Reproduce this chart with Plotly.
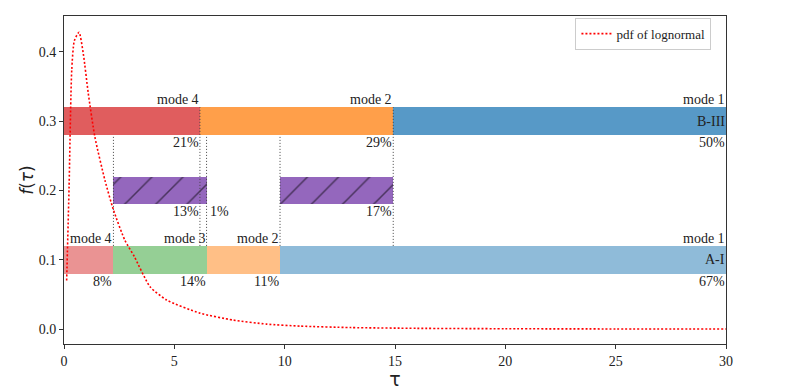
import plotly.graph_objects as go

# ---- data ----
tau_pts = [0.12, 0.23, 0.35, 0.47, 0.68, 0.875, 1.10, 1.40, 1.86, 2.24, 2.76, 3.18, 3.90, 4.65,
           6.16, 7.67, 9.18, 10.7, 13.0, 16.0, 20.0, 25.0, 30.0]
pdf_vals = [0.07, 0.205, 0.373, 0.416, 0.428, 0.397, 0.34, 0.277, 0.214, 0.172, 0.128, 0.105, 0.061, 0.042,
            0.023, 0.013, 0.0072, 0.0043, 0.0022, 0.0011, 0.0005, 0.0002, 0.0001]

b3_bounds = [0, 6.16, 14.92, 30]
b3_modes = ["mode 4", "mode 2", "mode 1"]
b3_pct = ["21%", "29%", "50%"]
b3_colors = ["#e05d5e", "#ff9f4a", "#5799c7"]

a1_bounds = [0, 2.24, 6.46, 9.79, 30]
a1_modes = ["mode 4", "mode 3", "mode 2", "mode 1"]
a1_pct = ["8%", "14%", "11%", "67%"]
a1_colors = ["#ea9393", "#95cf95", "#ffbf86", "#8fbbd9"]

hatch_starts = [2.24, 9.79]
hatch_ends = [6.46, 14.92]
hatch_labels = [("13%", 6.16, "right"), ("1%", 6.46, "left"), ("17%", 14.92, "right")]

row_y = {"B-III": 0.3, "hatch": 0.2, "A-I": 0.1}
bar_h = 0.04

x_ticks = [0, 5, 10, 15, 20, 25, 30]
y_ticks = [0.0, 0.1, 0.2, 0.3, 0.4]

long_lines = [6.16, 14.92]
short_lines = [2.24, 6.46, 9.79]

SERIF = "Liberation Serif"
fig = go.Figure()

def add_row(bounds, colors, yv):
    for i in range(len(bounds) - 1):
        fig.add_trace(go.Bar(orientation="h", y=[yv], x=[bounds[i + 1] - bounds[i]], base=[bounds[i]],
                             width=bar_h, marker=dict(color=colors[i], line=dict(width=0)),
                             showlegend=False, hoverinfo="skip"))

add_row(b3_bounds, b3_colors, row_y["B-III"])
add_row(a1_bounds, a1_colors, row_y["A-I"])

for s, e in zip(hatch_starts, hatch_ends):
    fig.add_trace(go.Bar(orientation="h", y=[row_y["hatch"]], x=[e - s], base=[s], width=bar_h,
                         marker=dict(color="#9467bd", line=dict(width=0),
                                     pattern=dict(shape="/", fgcolor="black", bgcolor="#9467bd",
                                                  size=22, solidity=0.07)),
                         showlegend=False, hoverinfo="skip"))

guide = dict(color="#444", width=1, dash="1px,2px")
for xv in long_lines:
    fig.add_trace(go.Scatter(x=[xv, xv], y=[0.12, 0.32], mode="lines",
                             line=guide, showlegend=False, hoverinfo="skip"))
for xv in short_lines:
    fig.add_trace(go.Scatter(x=[xv, xv], y=[0.12, 0.28], mode="lines",
                             line=guide, showlegend=False, hoverinfo="skip"))

fig.add_trace(go.Scatter(x=tau_pts, y=pdf_vals, mode="lines", name="pdf of lognormal",
                         line=dict(color="red", width=1.6, dash="2px,2px", shape="spline", smoothing=0.6)))

ann_font = dict(family=SERIF, size=14, color="#222")

def row_labels(bounds, modes, pcts, yv, name):
    for i in range(len(modes)):
        xe = bounds[i + 1]
        fig.add_annotation(x=xe, y=yv + bar_h / 2, text=modes[i], showarrow=False, xanchor="right",
                           yanchor="bottom", font=ann_font, borderpad=0, yshift=-1)
        fig.add_annotation(x=xe, y=yv - bar_h / 2, text=pcts[i], showarrow=False, xanchor="right",
                           yanchor="top", font=ann_font, borderpad=0, yshift=1)
    fig.add_annotation(x=bounds[-1], y=yv, text=name, showarrow=False, xanchor="right",
                       yanchor="middle", font=ann_font, borderpad=0)

row_labels(b3_bounds, b3_modes, b3_pct, row_y["B-III"], "B-III")
row_labels(a1_bounds, a1_modes, a1_pct, row_y["A-I"], "A-I")

for txt, xv, anc in hatch_labels:
    fig.add_annotation(x=xv, y=row_y["hatch"] - bar_h / 2, text=txt, showarrow=False, xanchor=anc,
                       yanchor="top", font=ann_font, borderpad=0, yshift=1, xshift=(2 if anc == "left" else 0))

axis_common = dict(showline=True, mirror=True, linecolor="#333", linewidth=1, ticks="outside",
                   ticklen=4, tickcolor="#333", showgrid=False, zeroline=False, automargin=False,
                   tickfont=dict(family=SERIF, size=14, color="#222"))

fig.update_layout(
    width=785, height=382,
    margin=dict(l=56, r=67, t=8, b=46),
    paper_bgcolor="white", plot_bgcolor="white",
    barmode="overlay", bargap=0,
    xaxis=dict(range=[0, 30], tickvals=x_ticks, ticktext=[str(v) for v in x_ticks],
               title=dict(text="τ", font=dict(family="DejaVu Sans", size=19, color="#222"), standoff=0),
               **axis_common),
    yaxis=dict(range=[-0.0215, 0.4515], tickvals=y_ticks, ticktext=[f"{v:.1f}" for v in y_ticks],
               title=dict(text="<i>f</i>(<i>τ</i>)", font=dict(family="DejaVu Sans", size=17, color="#222"),
                          standoff=0),
               **axis_common),
    legend=dict(x=0.978, y=0.995, xanchor="right", yanchor="top", bgcolor="white",
                bordercolor="#ccc", borderwidth=1, font=dict(family=SERIF, size=13, color="#222")),
    showlegend=True,
)

fig.write_html("out.html")
